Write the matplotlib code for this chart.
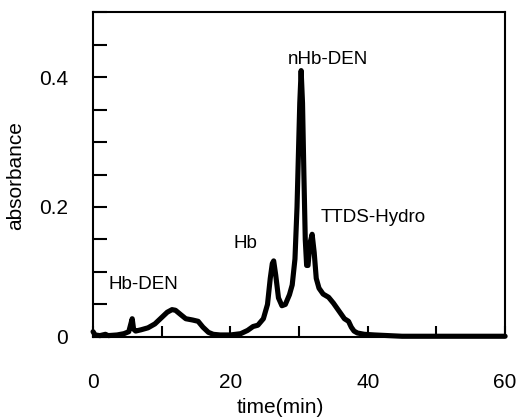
import matplotlib.pyplot as plt
from matplotlib.ticker import MultipleLocator

# chromatogram
time_min = [0, 0.3, 1.0, 1.8, 2.2, 3.5, 4.5, 5.2, 5.5, 5.7, 5.9, 6.2, 7, 8, 9, 10,
            10.8, 11.5, 12, 12.8, 13.5, 14.5, 15.3, 16, 16.8, 17.5, 18.5, 20, 21.5,
            22.5, 23.3, 24, 24.8, 25.4, 25.8, 26.1, 26.3, 26.6, 27, 27.5, 28, 28.6,
            29, 29.4, 29.7, 29.9, 30.1, 30.3, 30.5, 30.7, 30.9, 31.1, 31.3, 31.6,
            31.9, 32.2, 32.5, 32.9, 33.5, 34.3, 35, 35.8, 36.6, 37.2, 37.6, 38.0,
            38.5, 39.5, 41, 43, 45, 50, 55, 60]
absorbance = [0.008, 0.003, 0.002, 0.004, 0.002, 0.003, 0.005, 0.008, 0.02, 0.028,
              0.012, 0.009, 0.011, 0.014, 0.02, 0.03, 0.038, 0.042, 0.041, 0.034,
              0.028, 0.026, 0.024, 0.015, 0.007, 0.004, 0.003, 0.003, 0.005, 0.01,
              0.016, 0.018, 0.028, 0.05, 0.09, 0.113, 0.117, 0.095, 0.06, 0.048,
              0.05, 0.065, 0.08, 0.12, 0.2, 0.28, 0.36, 0.41, 0.36, 0.25, 0.15,
              0.11, 0.11, 0.145, 0.158, 0.13, 0.09, 0.075, 0.066, 0.061, 0.052,
              0.04, 0.028, 0.024, 0.015, 0.009, 0.006, 0.004, 0.003, 0.002, 0.001,
              0.001, 0.001, 0.001]

peak_labels = ["Hb-DEN", "Hb", "nHb-DEN", "TTDS-Hydro"]
label_x = [2.3, 20.5, 28.3, 33.1]
label_y = [0.074, 0.137, 0.42, 0.177]

plt.rcParams['font.family'] = ['Liberation Sans', 'DejaVu Sans']

fig = plt.figure(figsize=(5.17, 4.18), dpi=100)
ax = fig.add_axes([0.180, 0.194, 0.797, 0.777])

ax.plot(time_min, absorbance, color='black', lw=3.7, solid_joinstyle='round',
        solid_capstyle='round', clip_on=False)

for txt, x, y in zip(peak_labels, label_x, label_y):
    ax.text(x, y, txt, fontsize=13.5, ha='left', va='baseline')

ax.set_xlim(0, 60)
ax.set_ylim(0, 0.5)
ax.set_xticks([0, 20, 40, 60])
ax.set_xticklabels(['0', '20', '40', '60'])
ax.xaxis.set_minor_locator(MultipleLocator(10))
ax.set_yticks([0, 0.2, 0.4])
ax.set_yticklabels(['0', '0.2', '0.4'])
ax.yaxis.set_minor_locator(MultipleLocator(0.05))

ax.tick_params(axis='x', which='both', direction='in', length=8, width=1.5,
               pad=26, labelsize=15)
ax.tick_params(axis='y', which='both', direction='in', length=10, width=1.5,
               pad=18, labelsize=15)
for s in ax.spines.values():
    s.set_linewidth(1.5)

ax.set_xlabel('time(min)', fontsize=15, va='baseline')
ax.xaxis.set_label_coords(0.454, -0.234)
ax.set_ylabel('absorbance', fontsize=15, va='center')
ax.yaxis.set_label_coords(-0.188, 0.498)

fig.savefig('out.png', dpi=100)
